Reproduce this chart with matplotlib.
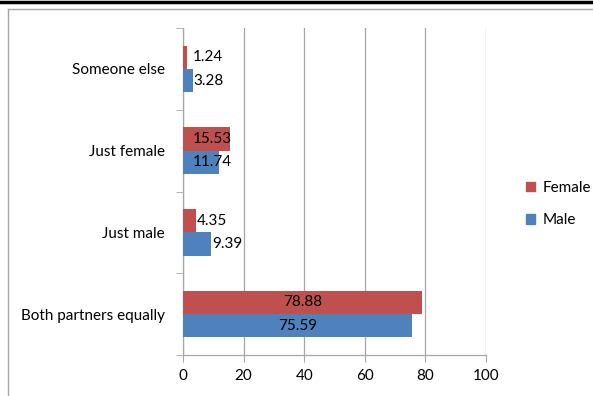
import matplotlib.pyplot as plt
from matplotlib.lines import Line2D
from matplotlib.patches import Patch
import numpy as np

plt.rcParams['font.family'] = ['Lato', 'DejaVu Sans']

categories = ['Both partners equally', 'Just male', 'Just female', 'Someone else']
male = [75.59, 9.39, 11.74, 3.28]
female = [78.88, 4.35, 15.53, 1.24]
xticks = [0, 20, 40, 60, 80, 100]

red = '#c0504d'
blue = '#4f81bd'
grey = '#a6a6a6'
fs = 11

fig = plt.figure(figsize=(5.93, 3.96), dpi=100)
ax = fig.add_axes([183/593, 1 - 355/396, (486-183)/593, (355-28)/396])

y = np.arange(len(categories))
h = 0.285
bm = ax.barh(y - h/2, male, height=h, color=blue, zorder=3)
bf = ax.barh(y + h/2, female, height=h, color=red, zorder=3)

for bars, vals in ((bm, male), (bf, female)):
    for b, v in zip(bars, vals):
        cy = b.get_y() + b.get_height()/2
        if v > 50:
            ax.text(v/2, cy, f'{v:.2f}', ha='center', va='center', fontsize=fs, color='black', zorder=4)
        else:
            lx = v + 0.3 if 3.3 < v < 10 else 3.3
            ax.text(lx, cy, f'{v:.2f}', ha='left', va='center', fontsize=fs, color='black', zorder=4)

ax.set_xlim(0, 100)
ax.set_ylim(-0.5, len(categories) - 0.5)
ax.set_xticks(xticks)
ax.set_xticklabels([str(t) for t in xticks], fontsize=fs)
ax.set_yticks(y)
ax.set_yticklabels(categories, fontsize=fs)
ax.set_yticks(np.arange(len(categories) + 1) - 0.5, minor=True)
ax.tick_params(axis='y', which='major', length=0, pad=13)
ax.tick_params(axis='y', which='minor', length=5, color=grey, direction='out')
ax.tick_params(axis='x', length=5, color=grey, direction='out', pad=5)
ax.xaxis.grid(True, color=grey, linewidth=0.9, zorder=0)
for s in ('top', 'right'):
    ax.spines[s].set_visible(False)
for s in ('left', 'bottom'):
    ax.spines[s].set_color(grey)
    ax.spines[s].set_linewidth(0.9)

handles = [Patch(color=red, label='Female'), Patch(color=blue, label='Male')]
fig.legend(handles=handles, loc='center left', bbox_to_anchor=(515/593, 1 - 204/396),
           frameon=False, fontsize=fs, handlelength=0.6, handleheight=0.6,
           handletextpad=0.5, labelspacing=1.2, borderpad=0.2)

# outer frame lines from the page
fig.add_artist(Line2D([0, 1], [1 - 1.5/396, 1 - 1.5/396], color='black', linewidth=2.5))
fig.add_artist(Line2D([8/593, 1], [1 - 9/396, 1 - 9/396], color=grey, linewidth=1))
fig.add_artist(Line2D([8/593, 8/593], [0, 1 - 9/396], color=grey, linewidth=1))

fig.savefig('out.png', dpi=100)
